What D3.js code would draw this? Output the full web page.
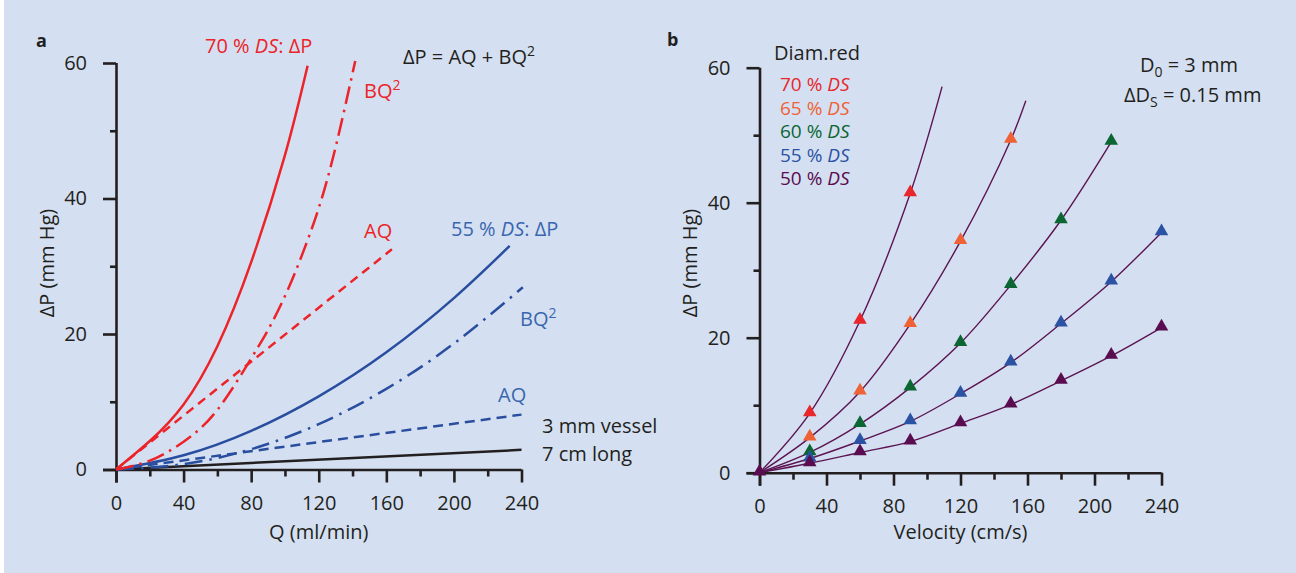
<!DOCTYPE html>
<html lang="en">
<head>
<meta charset="UTF-8">
<title>Pressure drop vs flow</title>
<script src="https://cdn.jsdelivr.net/npm/d3@7"></script>
<style>
  body { margin: 0; background: #fff; }
  svg text { font-family: "Open Sans", "Noto Sans", sans-serif; }
  .axis path, .axis line { stroke: #231f20; stroke-width: 2.6px; }
  .axis text { font-size: 20px; fill: #231f20; }
</style>
</head>
<body>
<div id="chart"></div>
<script>
// ---- panel a: dP = AQ + BQ^2 ----
const q70 = [0, 20, 40, 60, 80, 100, 113.4];
const dp70 = [0, 4.2, 9.6, 18.2, 30.6, 46.4, 59.6];
const q70bq = [0, 20, 40, 60, 80, 90, 100, 110, 120, 130, 141.6];
const bq70 = [0, 1.3, 4.1, 8.8, 16.4, 20.6, 25.6, 31.6, 38.6, 47.6, 60.3];
const q70aq = [0, 163.3];
const aq70 = [0, 32.5];

const q55 = [0, 40, 80, 120, 160, 200, 233];
const dp55 = [0, 2.1, 5.7, 10.8, 17.3, 25.3, 33.0];
const q55bq = [0, 40, 80, 120, 160, 200, 240.8];
const bq55 = [0, 0.8, 3.0, 6.7, 11.9, 18.6, 26.9];
const q55aq = [0, 240];
const aq55 = [0, 8.1];

const qVessel = [0, 240];
const dpVessel = [0, 2.9];

// ---- panel b: dP vs velocity for several diameter reductions ----
const velocity = [0, 30, 60, 90, 120, 150, 180, 210, 240];
const ds70 = [0, 8.8, 22.5, 41.4];
const ds65 = [0, 5.2, 12.0, 22.0, 34.3, 49.3];
const ds60 = [0, 3.0, 7.2, 12.6, 19.2, 27.8, 37.4, 49.0];
const ds55 = [0, 2.1, 4.7, 7.6, 11.7, 16.3, 22.1, 28.3, 35.6];
const ds50 = [0, 1.4, 3.0, 4.6, 7.3, 10.1, 13.6, 17.3, 21.5];
// where the fitted curves stop beyond the last marker
const fitEnd70 = [109, 57.2];
const fitEnd65 = [159, 55.1];

const dsLabels = ["70", "65", "60", "55", "50"];
const xTicks = [0, 40, 80, 120, 160, 200, 240];
const yTicks = [0, 20, 40, 60];

const W = 1296, H = 573;
const svg = d3.select("#chart").append("svg")
  .attr("width", W).attr("height", H);

svg.append("rect")
  .attr("x", 4).attr("y", 0)
  .attr("width", W - 4).attr("height", H)
  .attr("fill", "#d4e0f1");

// axes helper
function drawAxes(x, y, xTitle, yTitleX) {
  const g = svg.append("g");
  // minor ticks first
  g.append("g").attr("class", "axis")
    .attr("transform", `translate(0,${y(0)})`)
    .call(d3.axisBottom(x).tickValues(d3.range(20, 240, 40)).tickSize(7).tickSizeOuter(0).tickFormat(""))
    .call(s => s.select(".domain").remove());
  g.append("g").attr("class", "axis")
    .attr("transform", `translate(${x(0)},0)`)
    .call(d3.axisLeft(y).tickValues([10, 30, 50]).tickSize(6).tickSizeOuter(0).tickFormat(""))
    .call(s => s.select(".domain").remove());

  const xa = g.append("g").attr("class", "axis")
    .attr("transform", `translate(0,${y(0)})`)
    .call(d3.axisBottom(x).tickValues(xTicks).tickSize(13).tickSizeOuter(0).tickPadding(10));
  xa.select(".domain").attr("d", `M${x(0) - 13},0.5H${x(240)}`);
  xa.selectAll("text").attr("dy", "0.88em");

  const ya = g.append("g").attr("class", "axis")
    .attr("transform", `translate(${x(0)},0)`)
    .call(d3.axisLeft(y).tickValues(yTicks).tickSize(13).tickSizeOuter(0).tickPadding(16));
  ya.select(".domain").attr("d", `M0.5,${y(60)}V${y(0) + 13}`);

  svg.append("text")
    .attr("x", (x(0) + x(240)) / 2).attr("y", 539)
    .attr("text-anchor", "middle").attr("font-size", 20).attr("fill", "#231f20")
    .text(xTitle);

  svg.append("text")
    .attr("transform", `translate(${yTitleX},263) rotate(-90)`)
    .attr("text-anchor", "middle").attr("font-size", 20).attr("fill", "#231f20")
    .text("ΔP (mm Hg)");
}

// ---------- panel a ----------
const xa = d3.scaleLinear().domain([0, 240]).range([116, 521.5]);
const ya = d3.scaleLinear().domain([0, 60]).range([469.5, 63]);
drawAxes(xa, ya, "Q (ml/min)", 54);

const lineA = d3.line().x(d => xa(d[0])).y(d => ya(d[1])).curve(d3.curveNatural);
const red = "#ec2329", blue = "#2a4e9f";

const curvesA = [
  { q: qVessel, v: dpVessel, color: "#231f20", dash: null },
  { q: q55aq, v: aq55, color: blue, dash: "10,6" },
  { q: q55bq, v: bq55, color: blue, dash: "18,7,2.5,7" },
  { q: q55, v: dp55, color: blue, dash: null },
  { q: q70aq, v: aq70, color: red, dash: "9,6" },
  { q: q70bq, v: bq70, color: red, dash: "18,6,2.5,6" },
  { q: q70, v: dp70, color: red, dash: null }
];
curvesA.forEach(c => {
  svg.append("path")
    .datum(c.q.map((q, i) => [q, c.v[i]]))
    .attr("d", lineA)
    .attr("fill", "none")
    .attr("stroke", c.color)
    .attr("stroke-width", 2.5)
    .attr("stroke-dasharray", c.dash);
});

function label(x, y, color, parts, size) {
  const t = svg.append("text").attr("x", x).attr("y", y)
    .attr("fill", color).attr("font-size", size || 20);
  parts.forEach(p => {
    const s = t.append("tspan").text(p.t);
    if (p.i) s.attr("font-style", "italic");
    if (p.sup) s.attr("font-size", "70%").attr("dy", -8);
    if (p.sub) s.attr("font-size", "70%").attr("dy", 5);
    if (p.back) s.attr("dy", p.back);
  });
  return t;
}

svg.append("text").attr("x", 36).attr("y", 47).attr("font-size", 18)
  .attr("font-weight", "bold").attr("fill", "#231f20").text("a");
label(205, 53, red, [{ t: "70 % " }, { t: "DS", i: true }, { t: ": ΔP" }]);
label(403, 64, "#231f20", [{ t: "ΔP = AQ + BQ" }, { t: "2", sup: true }]);
label(364, 98, red, [{ t: "BQ" }, { t: "2", sup: true }]);
label(364, 238, red, [{ t: "AQ" }]);
label(451, 236, "#3a66b0", [{ t: "55 % " }, { t: "DS", i: true }, { t: ": ΔP" }]);
label(520, 326, "#3a66b0", [{ t: "BQ" }, { t: "2", sup: true }]);
label(498, 402, "#3a66b0", [{ t: "AQ" }]);
label(542, 433, "#231f20", [{ t: "3 mm vessel" }]);
label(542, 461, "#231f20", [{ t: "7 cm long" }]);

// ---------- panel b ----------
const xb = d3.scaleLinear().domain([0, 240]).range([759.5, 1161.5]);
const yb = d3.scaleLinear().domain([0, 60]).range([472.7, 67.7]);
drawAxes(xb, yb, "Velocity (cm/s)", 697);

const seriesB = [
  { v: ds70, color: "#e8262c", end: fitEnd70, text: "#e8262c" },
  { v: ds65, color: "#ef6236", end: fitEnd65, text: "#ef6236" },
  { v: ds60, color: "#0b6633", end: null, text: "#0b6633" },
  { v: ds55, color: "#2b52a3", end: null, text: "#2b52a3" },
  { v: ds50, color: "#5a0c50", end: null, text: "#5a0c50" }
];
const lineB = d3.line().x(d => xb(d[0])).y(d => yb(d[1])).curve(d3.curveCatmullRom.alpha(0.5));

seriesB.forEach(s => {
  const pts = s.v.map((p, i) => [velocity[i], p]);
  if (s.end) pts.push(s.end);
  svg.append("path").datum(pts).attr("d", lineB)
    .attr("fill", "none").attr("stroke", "#5c1452").attr("stroke-width", 1.4);
});

const tri = d3.symbol().type(d3.symbolTriangle).size(80);
seriesB.forEach(s => {
  svg.append("g").selectAll("path")
    .data(s.v.map((p, i) => [velocity[i], p]).filter(d => d[0] > 0))
    .enter().append("path")
    .attr("d", tri)
    .attr("transform", d => `translate(${xb(d[0])},${yb(d[1]) - 1})`)
    .attr("fill", s.color);
});
// shared origin marker
svg.append("path").attr("d", tri)
  .attr("transform", `translate(${xb(0)},${yb(0) - 1})`)
  .attr("fill", "#5a0c50");

svg.append("text").attr("x", 667).attr("y", 46).attr("font-size", 18)
  .attr("font-weight", "bold").attr("fill", "#231f20").text("b");
label(774, 60, "#231f20", [{ t: "Diam.red" }]);
seriesB.forEach((s, i) => {
  label(780, 91 + i * 23.6, s.text, [{ t: dsLabels[i] + " % " }, { t: "DS", i: true }], 19);
});
label(1140, 72, "#231f20", [{ t: "D" }, { t: "0", sub: true }, { t: " = 3 mm", back: -5 }]);
label(1124, 102, "#231f20", [{ t: "ΔD" }, { t: "S", sub: true }, { t: " = 0.15 mm", back: -5 }]);
</script>
</body>
</html>
